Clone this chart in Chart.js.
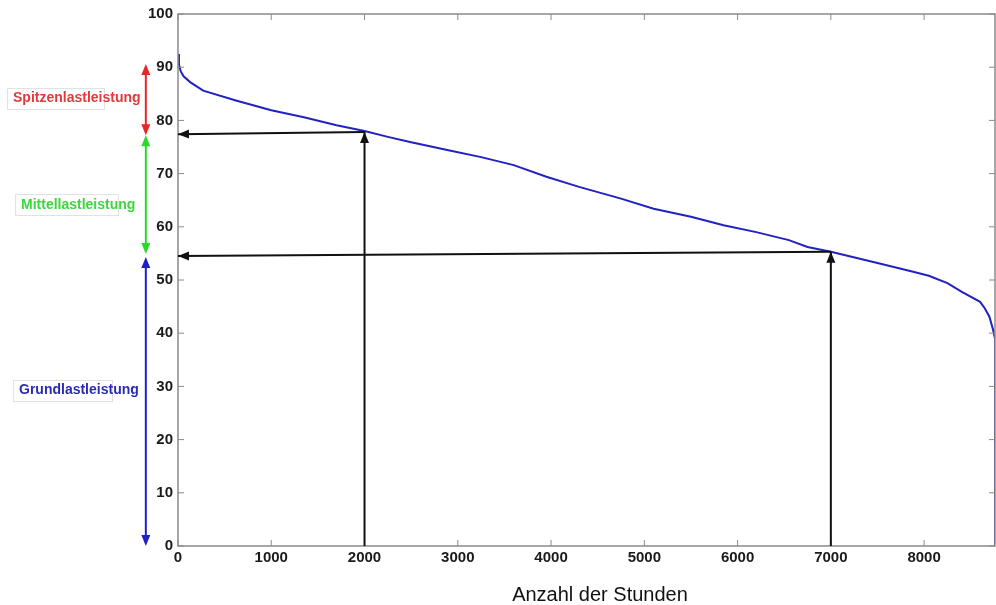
<!DOCTYPE html>
<html>
<head>
<meta charset="utf-8">
<script src="https://cdn.jsdelivr.net/npm/chart.js@4"></script>
<style>
  html, body { margin: 0; padding: 0; background: #fff; }
  #wrap { width: 996px; height: 605px; position: relative; }
</style>
</head>
<body>
<div id="wrap"><canvas id="load-chart"></canvas></div>
<script>
// Jahresdauerlinie: Stunden (sortiert) und Leistung
var hours = [0, 10, 30, 60, 130, 270, 630, 1000, 1350, 1700, 2000, 2250, 2500, 2900, 3250, 3600, 3950, 4300, 4750, 5100, 5500, 5850, 6200, 6550, 6750, 7000, 7500, 7850, 8050, 8250, 8400, 8600, 8650, 8700, 8740, 8760, 8760];
var load = [92.5, 90.5, 89.2, 88.3, 87.2, 85.6, 83.7, 81.9, 80.6, 79.1, 78.0, 76.9, 75.9, 74.4, 73.1, 71.6, 69.4, 67.5, 65.3, 63.4, 61.9, 60.3, 59.0, 57.5, 56.2, 55.3, 53.2, 51.7, 50.8, 49.4, 47.8, 45.9, 44.7, 43.1, 40.6, 39.0, 0];

var xTicks = [0, 1000, 2000, 3000, 4000, 5000, 6000, 7000, 8000];
var yTicks = [0, 10, 20, 30, 40, 50, 60, 70, 80, 90, 100];

// schwarze Pfeile: [x1, y1, x2, y2], Spitze am Ende
var blackArrows = [
  [2000, 77.8, 0, 77.4],
  [2000, 0, 2000, 77.8],
  [7000, 55.3, 0, 54.5],
  [7000, 0, 7000, 55.3]
];

// Bereiche links neben der Achse
var bandX = -345;
var bandNames = ['Spitzenlastleistung', 'Mittellastleistung', 'Grundlastleistung'];
var bandFrom = [90.6, 77.2, 54.3];
var bandTo = [77.2, 54.9, 0];
var bandLabelY = [84.1, 64.1, 29.3];
var bandColors = ['#e8262a', '#2ad82a', '#2020c8'];
var bandTextColors = ['#e03a3a', '#3dd63d', '#2a2ab4'];
// Lage der Textkästen (Pixel)
var labelLeft = [13, 21, 19];
var boxLeft = [7, 15, 13];
var boxWidth = [97, 103, 99];

function arrowHead(ctx, x1, y1, x2, y2, len, wid) {
  var a = Math.atan2(y2 - y1, x2 - x1);
  ctx.beginPath();
  ctx.moveTo(x2, y2);
  ctx.lineTo(x2 - len * Math.cos(a) + wid * Math.sin(a), y2 - len * Math.sin(a) - wid * Math.cos(a));
  ctx.lineTo(x2 - len * Math.cos(a) - wid * Math.sin(a), y2 - len * Math.sin(a) + wid * Math.cos(a));
  ctx.closePath();
  ctx.fill();
}

var extras = {
  id: 'extras',
  afterDatasetsDraw: function(chart) {
    var ctx = chart.ctx, xs = chart.scales.x, ys = chart.scales.y, a = chart.chartArea;
    ctx.save();
    // Rahmen
    ctx.strokeStyle = '#8a8a8a';
    ctx.lineWidth = 1.5;
    ctx.strokeRect(a.left, a.top, a.right - a.left, a.bottom - a.top);
    // Innenliegende Striche
    ctx.lineWidth = 1;
    ctx.beginPath();
    xTicks.forEach(function(t) {
      var px = xs.getPixelForValue(t);
      ctx.moveTo(px, a.bottom); ctx.lineTo(px, a.bottom - 6);
      ctx.moveTo(px, a.top); ctx.lineTo(px, a.top + 6);
    });
    yTicks.forEach(function(t) {
      var py = ys.getPixelForValue(t);
      ctx.moveTo(a.left, py); ctx.lineTo(a.left + 6, py);
      ctx.moveTo(a.right, py); ctx.lineTo(a.right - 6, py);
    });
    ctx.stroke();

    // schwarze Pfeile
    ctx.strokeStyle = '#111';
    ctx.fillStyle = '#111';
    ctx.lineWidth = 2;
    blackArrows.forEach(function(p) {
      var x1 = xs.getPixelForValue(p[0]), y1 = ys.getPixelForValue(p[1]);
      var x2 = xs.getPixelForValue(p[2]), y2 = ys.getPixelForValue(p[3]);
      ctx.beginPath(); ctx.moveTo(x1, y1); ctx.lineTo(x2, y2); ctx.stroke();
      arrowHead(ctx, x1, y1, x2, y2, 11, 4.5);
    });

    // farbige Doppelpfeile + Beschriftung
    var bx = xs.getPixelForValue(bandX);
    ctx.font = 'bold 14px "Liberation Sans", Arial, sans-serif';
    ctx.textBaseline = 'middle';
    bandNames.forEach(function(name, i) {
      var y1 = ys.getPixelForValue(bandFrom[i]), y2 = ys.getPixelForValue(bandTo[i]);
      ctx.strokeStyle = bandColors[i];
      ctx.fillStyle = bandColors[i];
      ctx.lineWidth = 2;
      ctx.beginPath(); ctx.moveTo(bx, y1 + 4); ctx.lineTo(bx, y2 - 4); ctx.stroke();
      arrowHead(ctx, bx, y2, bx, y1, 11, 4.5);
      arrowHead(ctx, bx, y1, bx, y2, 11, 4.5);
      var ly = ys.getPixelForValue(bandLabelY[i]);
      ctx.strokeStyle = '#e2e2e2';
      ctx.lineWidth = 1;
      ctx.strokeRect(boxLeft[i] + 0.5, Math.round(ly - 10.5) + 0.5, boxWidth[i], 21);
      ctx.fillStyle = bandTextColors[i];
      ctx.fillText(name, labelLeft[i], ly);
    });

    // Achsentitel
    ctx.fillStyle = '#111';
    ctx.font = '20px "Liberation Sans", Arial, sans-serif';
    ctx.textAlign = 'center';
    ctx.textBaseline = 'alphabetic';
    ctx.fillText('Anzahl der Stunden', 600, 601);
    ctx.restore();
  }
};

var points = hours.map(function(h, i) { return { x: h, y: load[i] }; });
var tickFont = { size: 15, weight: 'bold', family: '"Liberation Sans", Arial, sans-serif' };

var chart = new Chart(document.getElementById('load-chart'), {
  type: 'line',
  data: {
    datasets: [{
      data: points,
      borderColor: '#2121c4',
      borderWidth: 2,
      pointRadius: 0,
      tension: 0,
      fill: false
    }]
  },
  options: {
    responsive: true,
    maintainAspectRatio: false,
    animation: false,
    layout: { padding: { top: 14, right: 1, left: 0, bottom: 0 } },
    plugins: { legend: { display: false }, tooltip: { enabled: false } },
    scales: {
      x: {
        type: 'linear',
        min: 0,
        max: 8760,
        afterBuildTicks: function(s) { s.ticks = xTicks.map(function(v) { return { value: v }; }); },
        afterFit: function(s) { s.height = 59; },
        grid: { display: false, drawTicks: false, tickLength: 0 },
        border: { display: false },
        ticks: {
          color: '#1a1a1a', padding: 3, maxRotation: 0, font: tickFont,
          callback: function(v) { return String(v); }
        }
      },
      y: {
        min: 0,
        max: 100,
        afterBuildTicks: function(s) { s.ticks = yTicks.map(function(v) { return { value: v }; }); },
        afterFit: function(s) { s.width = 178; },
        grid: { display: false, drawTicks: false, tickLength: 0 },
        border: { display: false },
        ticks: {
          color: '#1a1a1a', padding: 5, font: tickFont,
          callback: function(v) { return String(v); }
        }
      }
    }
  },
  plugins: [extras]
});
</script>
</body>
</html>
